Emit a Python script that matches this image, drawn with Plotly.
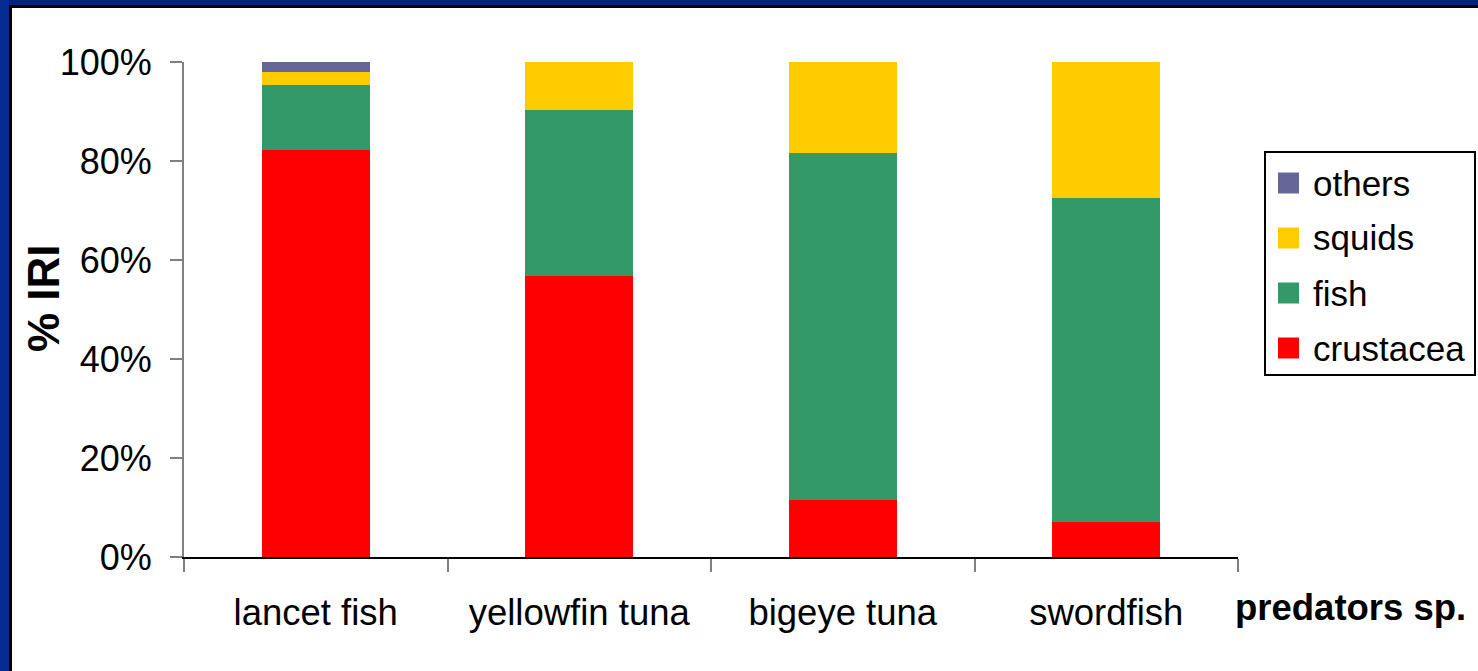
import plotly.graph_objects as go

# Diet composition (% IRI) of four pelagic predators
predators = ["lancet fish", "yellowfin tuna", "bigeye tuna", "swordfish"]
crustacea = [82.2, 56.8, 11.5, 7.1]
fish = [13.2, 33.5, 70.1, 65.4]
squids = [2.6, 9.7, 18.4, 27.5]
others = [2.0, 0.0, 0.0, 0.0]

series_names = ["crustacea", "fish", "squids", "others"]
series_values = [crustacea, fish, squids, others]
series_colors = ["#FF0000", "#339966", "#FFCC00", "#666699"]

W, H = 1478, 671
L, R, T, B = 184, 1238, 62, 557  # plot area in pixels


def px_x(px):
    return (px - L) / (R - L)


def px_y(py):
    return (B - py) / (B - T)


FONT = "Liberation Sans, Arial, sans-serif"

fig = go.Figure()
for name, vals, col in zip(series_names, series_values, series_colors):
    fig.add_trace(go.Bar(
        x=predators, y=vals, name=name,
        marker=dict(color=col, line=dict(width=0)),
        showlegend=False,
    ))

shapes = []
# slide frame: blue band on top and left, thin black rule inside it
shapes.append(dict(type="rect", xref="paper", yref="paper",
                   x0=px_x(0), x1=px_x(W), y0=px_y(5), y1=px_y(0),
                   fillcolor="#00237A", line=dict(width=0), layer="above"))
shapes.append(dict(type="rect", xref="paper", yref="paper",
                   x0=px_x(0), x1=px_x(9), y0=px_y(H), y1=px_y(0),
                   fillcolor="#062C92", line=dict(width=0), layer="above"))
shapes.append(dict(type="rect", xref="paper", yref="paper",
                   x0=px_x(9), x1=px_x(W), y0=px_y(8), y1=px_y(5),
                   fillcolor="#000000", line=dict(width=0), layer="above"))
shapes.append(dict(type="rect", xref="paper", yref="paper",
                   x0=px_x(9), x1=px_x(12), y0=px_y(H), y1=px_y(5),
                   fillcolor="#000000", line=dict(width=0), layer="above"))

# legend box
shapes.append(dict(type="rect", xref="paper", yref="paper",
                   x0=px_x(1265), x1=px_x(1475), y0=px_y(375), y1=px_y(152),
                   fillcolor="white", line=dict(color="black", width=2)))

annotations = []
legend_rows = [183, 238, 293, 348]
for row_y, name, col in zip(legend_rows, series_names[::-1], series_colors[::-1]):
    shapes.append(dict(type="rect", xref="paper", yref="paper",
                       x0=px_x(1278), x1=px_x(1299),
                       y0=px_y(row_y + 10.5), y1=px_y(row_y - 10.5),
                       fillcolor=col, line=dict(width=0)))
    annotations.append(dict(xref="paper", yref="paper", x=px_x(1311), y=px_y(row_y),
                            text=name, showarrow=False, xanchor="left", yanchor="middle",
                            font=dict(family=FONT, size=35, color="black")))

# axis titles
annotations.append(dict(xref="paper", yref="paper", x=px_x(1233), y=px_y(607),
                        text="<b>predators sp.</b>", showarrow=False,
                        xanchor="left", yanchor="middle",
                        font=dict(family=FONT, size=36.5, color="black")))
annotations.append(dict(xref="paper", yref="paper", x=px_x(43), y=px_y(298),
                        text="<b>% IRI</b>", showarrow=False, textangle=-90,
                        xanchor="center", yanchor="middle",
                        font=dict(family=FONT, size=44, color="black")))

fig.update_layout(
    width=W, height=H,
    margin=dict(l=L, r=W - R, t=T, b=H - B, pad=0),
    barmode="stack", bargap=0.59,
    paper_bgcolor="white", plot_bgcolor="white",
    font=dict(family=FONT, size=36, color="black"),
    shapes=shapes, annotations=annotations,
    xaxis=dict(
        showline=True, linecolor="black", linewidth=2,
        ticks="outside", tickson="boundaries", ticklen=13,
        tickcolor="#808080", tickwidth=2,
        showgrid=False, zeroline=False,
        ticklabelstandoff=22,
        tickfont=dict(family=FONT, size=36.5, color="black"),
    ),
    yaxis=dict(
        range=[0, 100], tickmode="linear", tick0=0, dtick=20, ticksuffix="%",
        showline=True, linecolor="#808080", linewidth=2,
        ticks="outside", ticklen=12, tickcolor="#808080", tickwidth=2,
        showgrid=False, zeroline=False,
        ticklabelstandoff=11,
        tickfont=dict(family=FONT, size=36, color="black"),
    ),
)

fig.write_html("out.html")
